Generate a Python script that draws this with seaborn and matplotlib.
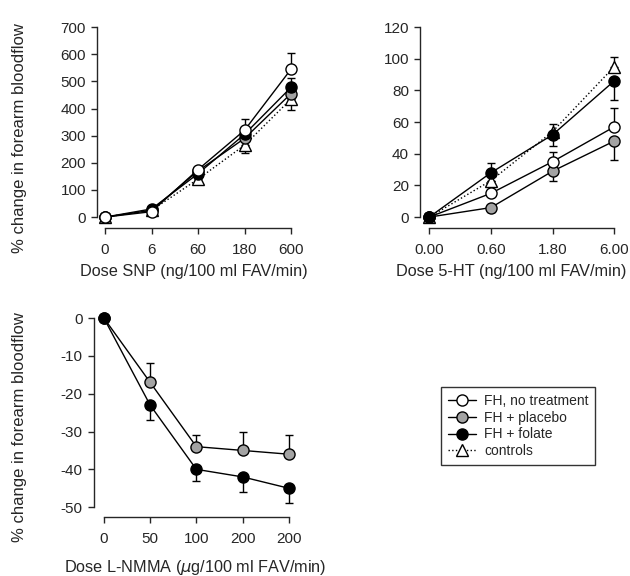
import numpy as np
import pandas as pd
import matplotlib
matplotlib.use("Agg")
import matplotlib.pyplot as plt
import seaborn as sns
from matplotlib.lines import Line2D

sns.set_style("ticks")
plt.rcParams["font.family"] = ["Liberation Sans", "DejaVu Sans"]
plt.rcParams["axes.unicode_minus"] = False

# ===========================
# Data
# ===========================

snp_doses = ["0", "6", "60", "180", "600"]
snp_none = [0, 20, 175, 320, 545]
snp_none_up = [0, 5, 8, 40, 60]
snp_placebo = [0, 25, 170, 290, 455]
snp_placebo_up = [0, 5, 8, 25, 30]
snp_folate = [0, 30, 160, 305, 478]
snp_folate_up = [0, 5, 8, 25, 35]
snp_controls = [0, 25, 140, 265, 435]
snp_controls_lo = [0, 5, 10, 30, 40]

ht_doses = ["0.00", "0.60", "1.80", "6.00"]
ht_none = [0, 15, 35, 57]
ht_none_up = [0, 3, 6, 12]
ht_placebo = [0, 6, 29, 48]
ht_placebo_lo = [0, 3, 6, 12]
ht_folate = [0, 28, 52, 86]
ht_folate_up = [0, 6, 0, 0]
ht_folate_lo = [0, 0, 7, 12]
ht_controls = [0, 23, 54, 95]
ht_controls_up = [0, 0, 5, 6]

nmma_doses = ["0", "50", "100", "200", "200"]
nmma_placebo = [0, -17, -34, -35, -36]
nmma_placebo_up = [0, 5, 3, 5, 5]
nmma_folate = [0, -23, -40, -42, -45]
nmma_folate_lo = [0, 4, 3, 4, 4]

GREY = "#a3a3a3"
styles = {
    "FH, no treatment": dict(marker="o", mfc="white", ls="-"),
    "FH + placebo": dict(marker="o", mfc=GREY, ls="-"),
    "FH + folate": dict(marker="o", mfc="black", ls="-"),
    "controls": dict(marker="^", mfc="white", ls=":"),
}


def draw(ax, vals, lo, up, name):
    st = styles[name]
    x = np.arange(len(vals))
    sns.lineplot(x=x, y=vals, ax=ax, color="black", linewidth=1.0,
                 linestyle=st["ls"], marker=st["marker"], markersize=8,
                 markerfacecolor=st["mfc"], markeredgecolor="black",
                 markeredgewidth=1.0, clip_on=False, zorder=3)
    ax.errorbar(x, vals, yerr=[lo, up], fmt="none", ecolor="black",
                elinewidth=1.0, capsize=3, capthick=1.0, clip_on=False, zorder=2)


def style_axes(ax, labels, xlim, ylim, ybounds, yticks, xlabel, ylabel=None,
               xlab_pos=(0.5, -0.2), ylab_x=-0.36):
    n = len(labels)
    ax.set_xlim(*xlim)
    ax.set_ylim(*ylim)
    ax.set_xticks(range(n))
    ax.set_xticklabels(labels)
    ax.set_yticks(yticks)
    sns.despine(ax=ax)
    ax.spines["bottom"].set_bounds(0, n - 1)
    ax.spines["left"].set_bounds(*ybounds)
    for s in ["bottom", "left"]:
        ax.spines[s].set_linewidth(1.0)
    ax.tick_params(labelsize=11, length=4, width=1.0, pad=4)
    ax.tick_params(axis="x", pad=7)
    ax.set_xlabel(xlabel, fontsize=11.7)
    ax.xaxis.set_label_coords(*xlab_pos)
    if ylabel:
        ax.set_ylabel(ylabel, fontsize=12)
        ax.yaxis.set_label_coords(ylab_x, 0.45)
    ax.patch.set_alpha(0)


fig = plt.figure(figsize=(6.3, 5.76), dpi=100)
ylab = "% change in forearm bloodflow"

# Dose SNP
ax1 = fig.add_axes([0.154, 0.604, 0.308, 0.349])
zeros = [0] * 5
draw(ax1, snp_controls, snp_controls_lo, zeros, "controls")
draw(ax1, snp_placebo, zeros, snp_placebo_up, "FH + placebo")
draw(ax1, snp_folate, zeros, snp_folate_up, "FH + folate")
draw(ax1, snp_none, zeros, snp_none_up, "FH, no treatment")
style_axes(ax1, snp_doses, (-0.172, 4), (-40.5, 700), (0, 700),
           range(0, 701, 100), "Dose SNP (ng/100 ml FAV/min)", ylab,
           xlab_pos=(0.50, -0.18), ylab_x=-0.36)

# Dose 5-HT
ax2 = fig.add_axes([0.667, 0.604, 0.308, 0.349])
z4 = [0] * 4
draw(ax2, ht_controls, z4, ht_controls_up, "controls")
draw(ax2, ht_placebo, ht_placebo_lo, z4, "FH + placebo")
draw(ax2, ht_none, z4, ht_none_up, "FH, no treatment")
draw(ax2, ht_folate, ht_folate_lo, ht_folate_up, "FH + folate")
style_axes(ax2, ht_doses, (-0.146, 3), (-6.95, 120), (0, 120),
           range(0, 121, 20), "Dose 5-HT (ng/100 ml FAV/min)",
           xlab_pos=(0.47, -0.18))

# Dose L-NMMA
ax3 = fig.add_axes([0.149, 0.1024, 0.3095, 0.3455])
draw(ax3, nmma_placebo, zeros, nmma_placebo_up, "FH + placebo")
draw(ax3, nmma_folate, nmma_folate_lo, zeros, "FH + folate")
style_axes(ax3, nmma_doses, (-0.216, 4), (-52.6, 0), (-50, 0),
           range(-50, 1, 10), "Dose L-NMMA ($\\mu$g/100 ml FAV/min)", ylab,
           xlab_pos=(0.52, -0.205), ylab_x=-0.344)

# Legend
handles = [Line2D([], [], color="black", lw=1.0, ls=st["ls"], marker=st["marker"],
                  markersize=8, markerfacecolor=st["mfc"], markeredgecolor="black")
           for st in styles.values()]
leg = fig.legend(handles, list(styles.keys()), loc="upper left",
                 bbox_to_anchor=(434 / 630, 1 - 380 / 576), fontsize=10,
                 frameon=True, fancybox=False, edgecolor="black",
                 handlelength=2.0, handletextpad=0.6, borderpad=0.5,
                 labelspacing=0.2)
leg.get_frame().set_linewidth(1.0)

fig.savefig("out.png", dpi=100)
